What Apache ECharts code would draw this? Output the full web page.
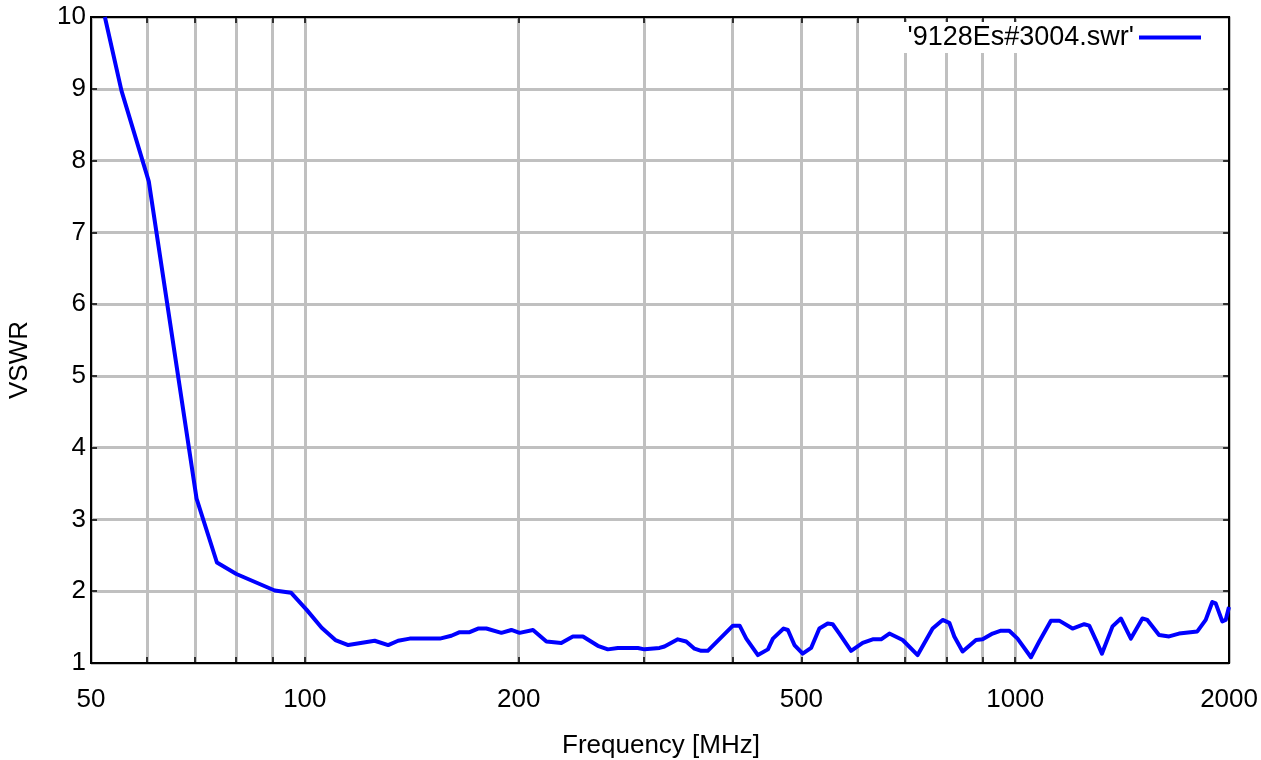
<!DOCTYPE html>
<html>
<head>
<meta charset="utf-8">
<script src="https://cdn.jsdelivr.net/npm/echarts@6/dist/echarts.min.js"></script>
<style>
html,body{margin:0;padding:0;background:#fff;}
#chart{width:1261px;height:760px;}
</style>
</head>
<body>
<div id="chart"></div>
<script>
const freqMHz = [52.3, 55.2, 60.3, 70.4, 75.2, 80.1, 90.7, 95.6, 100.6, 105.6, 110.4, 115.1, 125.4, 131.0, 135.3, 140.5,
  154.9, 160.8, 165.2, 170.6, 175.3, 180.1, 189.1, 195.3, 200.6, 209.5, 218.8, 229.6, 238.4, 246.3, 258.5, 267.0,
  275.8, 294.3, 300.7, 315.7, 320.8, 335.0, 344.2, 353.6, 361.3, 369.1, 400.5, 409.3, 418.2, 434.3, 448.6, 455.9,
  472.0, 478.6, 488.9, 502.1, 516.0, 530.0, 544.5, 553.4, 565.5, 587.4, 609.9, 630.0, 647.4, 665.0, 694.3, 728.8,
  765.1, 790.3, 807.6, 820.8, 843.2, 880.6, 899.6, 929.2, 954.8, 980.8, 1007.5, 1052.2, 1080.9, 1122.6, 1153.3,
  1204.0, 1250.6, 1271.0, 1298.9, 1324.4, 1370.7, 1408.5, 1454.8, 1510.0, 1534.6, 1593.9, 1646.4, 1700.6, 1804.3,
  1854.1, 1894.2, 1915.1, 1956.5, 1978.2, 1999.4];
const vswr = [10.0, 8.97, 7.71, 3.29, 2.40, 2.24, 2.01, 1.98, 1.74, 1.49, 1.32, 1.25, 1.31, 1.25, 1.31, 1.34,
  1.34, 1.38, 1.43, 1.43, 1.48, 1.48, 1.42, 1.46, 1.42, 1.46, 1.30, 1.28, 1.37, 1.37, 1.24, 1.19,
  1.21, 1.21, 1.19, 1.21, 1.23, 1.33, 1.30, 1.20, 1.17, 1.17, 1.52, 1.52, 1.34, 1.11, 1.19, 1.34,
  1.48, 1.46, 1.25, 1.13, 1.21, 1.48, 1.55, 1.54, 1.41, 1.17, 1.28, 1.33, 1.33, 1.41, 1.32, 1.11,
  1.48, 1.60, 1.56, 1.37, 1.16, 1.32, 1.33, 1.41, 1.45, 1.45, 1.34, 1.08, 1.30, 1.59, 1.59,
  1.48, 1.54, 1.52, 1.32, 1.13, 1.51, 1.62, 1.34, 1.62, 1.60, 1.39, 1.37, 1.41, 1.44,
  1.60, 1.85, 1.83, 1.58, 1.60, 1.78];
const seriesName = "'9128Es#3004.swr'";
const xLabelValues = [50, 100, 200, 500, 1000, 2000];
const xGridValues = [50, 60, 70, 80, 90, 100, 200, 300, 400, 500, 600, 700, 800, 900, 1000, 2000];
const xTitle = 'Frequency [MHz]';
const yTitle = 'VSWR';

const FONT = '"Liberation Sans", Arial, sans-serif';
const FS = 26;
const chart = echarts.init(document.getElementById('chart'));
const data = freqMHz.map((f, i) => [f, vswr[i]]);

const baseX = {
  type: 'log', logBase: 10, min: 50, max: 2000, gridIndex: 0,
  axisLine: {show: true, onZero: false, lineStyle: {color: '#000', width: 2}},
  axisTick: {show: true, inside: true, length: 6, customValues: xGridValues, lineStyle: {color: '#000', width: 1.5}},
  minorTick: {show: false}
};
const baseY = {
  type: 'value', min: 1, max: 10, interval: 1, gridIndex: 0,
  axisLine: {show: true, lineStyle: {color: '#000', width: 2}},
  axisTick: {show: true, inside: true, length: 6, lineStyle: {color: '#000', width: 1.5}}
};

chart.setOption({
  animation: false,
  backgroundColor: '#fff',
  textStyle: {fontFamily: FONT},
  grid: {left: 91, right: 30, top: 17, bottom: 97, show: true, borderColor: '#000', borderWidth: 2, containLabel: false},
  xAxis: [
    Object.assign({}, baseX, {
      position: 'bottom',
      axisLabel: {show: true, customValues: xLabelValues, margin: 24, color: '#000', fontSize: FS, fontFamily: FONT,
        formatter: v => String(Math.round(v))},
      splitLine: {show: true, lineStyle: {color: '#c0c0c0', width: 3}}
    }),
    Object.assign({}, baseX, {
      position: 'top',
      axisLabel: {show: false},
      splitLine: {show: false}
    })
  ],
  yAxis: [
    Object.assign({}, baseY, {
      position: 'left',
      axisLabel: {show: true, margin: 5, color: '#000', fontSize: FS, fontFamily: FONT},
      splitLine: {show: true, lineStyle: {color: '#c0c0c0', width: 3}}
    }),
    Object.assign({}, baseY, {
      position: 'right',
      axisLabel: {show: false},
      splitLine: {show: false}
    })
  ],
  legend: {
    show: true,
    data: [seriesName],
    right: 54, top: 22,
    align: 'right',
    orient: 'vertical',
    icon: 'rect',
    itemWidth: 62, itemHeight: 4,
    itemGap: 0,
    padding: [2, 6, 2, 8],
    backgroundColor: '#fff',
    textStyle: {color: '#000', fontSize: 27, fontFamily: FONT, padding: [0, 0, 0, 0]}
  },
  graphic: [
    {type: 'text', x: 661, y: 746, style: {text: xTitle, fill: '#000', font: FS + 'px ' + FONT, textAlign: 'center', textVerticalAlign: 'middle'}},
    {type: 'text', x: 20, y: 360, rotation: Math.PI / 2, style: {text: yTitle, fill: '#000', font: FS + 'px ' + FONT, textAlign: 'center', textVerticalAlign: 'middle'}}
  ],
  series: [{
    name: seriesName,
    type: 'line',
    xAxisIndex: 0, yAxisIndex: 0,
    data: data,
    showSymbol: false,
    symbol: 'none',
    smooth: false,
    color: '#0000ff',
    lineStyle: {color: '#0000ff', width: 4, join: 'round'},
    clip: true
  }]
});
</script>
</body>
</html>
